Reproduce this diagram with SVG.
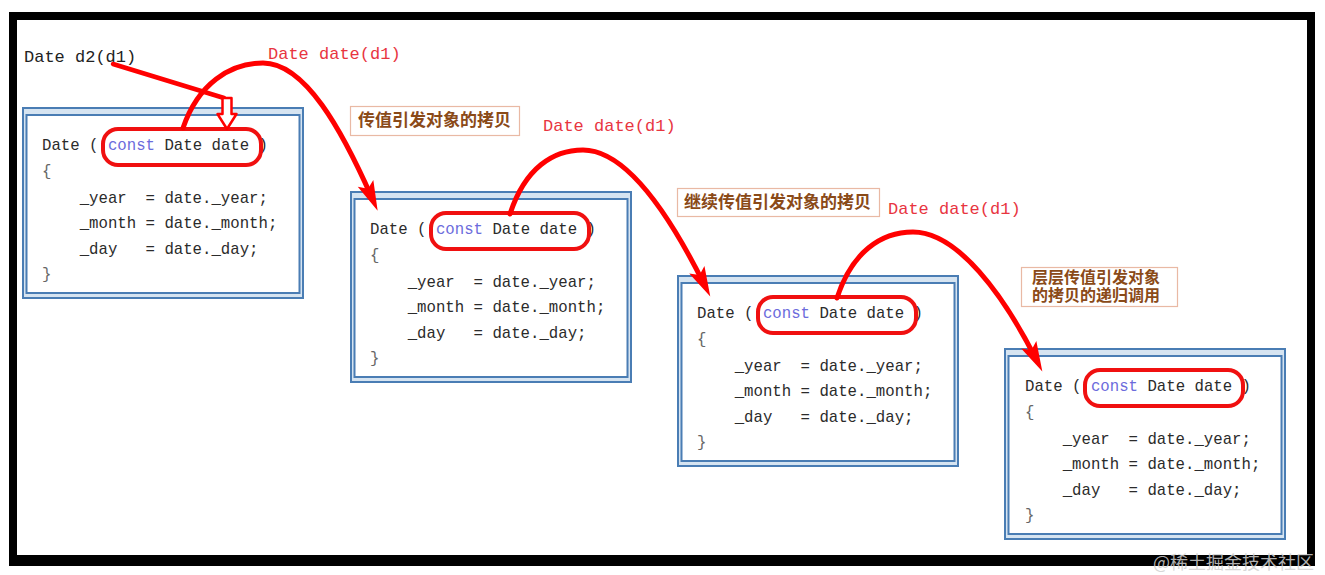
<svg xmlns="http://www.w3.org/2000/svg" width="1325" height="575" viewBox="0 0 1325 575">
<style>
.code{font-family:"Liberation Mono","DejaVu Sans Mono",monospace;font-size:15.7px;fill:#2b2b2b}
.brace{fill:#666}
.kw{fill:#6b6bdc}
.outer{fill:#d6e4f1;stroke:#4a7db4;stroke-width:2}
.inner{fill:#fff;stroke:#4a7db4;stroke-width:2}
.oval{fill:none;stroke:#f01010;stroke-width:4}
.red{font-family:"Liberation Mono","DejaVu Sans Mono",monospace;font-size:17px;fill:#e8353f}
.note{fill:#fff;stroke:#e9b9a4;stroke-width:1.2}
.notet{font-family:"Noto Sans CJK SC","Noto Sans",sans-serif;font-weight:bold;fill:#8a4a18}
.arc{fill:none;stroke:#ff0000;stroke-width:5;stroke-linecap:round}
</style>
<defs>
<marker id="head" markerUnits="userSpaceOnUse" viewBox="-20 -10 40 20" markerWidth="40" markerHeight="20" refX="0" refY="0" orient="auto" overflow="visible">
<path d="M14,0 L-16,-8.5 L-10,0 L-16,8.5 Z" fill="#ff0000"/>
</marker>
</defs>
<rect x="0" y="0" width="1325" height="575" fill="#fff"/>
<path d="M9,12 H1315 V566 H9 Z M17,20 V555 H1307 V20 Z" fill="#000" fill-rule="evenodd"/>

<g id="caller">
<text x="24" y="62" font-family="Liberation Mono, monospace" font-size="17" fill="#222">Date d2(d1)</text>
</g>

<g id="box1" transform="translate(22,107)">
<rect class="outer" x="1" y="1" width="280" height="190"/>
<rect class="inner" x="4.5" y="8" width="273" height="178"/>
<text class="code" xml:space="preserve"><tspan x="20" y="43">Date ( <tspan class="kw">const</tspan> Date date )</tspan><tspan class="brace" x="20" y="69">{</tspan><tspan x="20" y="96">    _year  = date._year;</tspan><tspan x="20" y="121">    _month = date._month;</tspan><tspan x="20" y="147">    _day   = date._day;</tspan><tspan class="brace" x="20" y="172">}</tspan></text>
<rect class="oval" x="81" y="22" width="158" height="36" rx="15"/>
</g>

<g id="box2" transform="translate(350,191)">
<rect class="outer" x="1" y="1" width="280" height="190"/>
<rect class="inner" x="4.5" y="8" width="273" height="178"/>
<text class="code" xml:space="preserve"><tspan x="20" y="43">Date ( <tspan class="kw">const</tspan> Date date )</tspan><tspan class="brace" x="20" y="69">{</tspan><tspan x="20" y="96">    _year  = date._year;</tspan><tspan x="20" y="121">    _month = date._month;</tspan><tspan x="20" y="147">    _day   = date._day;</tspan><tspan class="brace" x="20" y="172">}</tspan></text>
<rect class="oval" x="81" y="22" width="158" height="36" rx="15"/>
</g>

<g id="box3" transform="translate(677,275)">
<rect class="outer" x="1" y="1" width="280" height="190"/>
<rect class="inner" x="4.5" y="8" width="273" height="178"/>
<text class="code" xml:space="preserve"><tspan x="20" y="43">Date ( <tspan class="kw">const</tspan> Date date )</tspan><tspan class="brace" x="20" y="69">{</tspan><tspan x="20" y="96">    _year  = date._year;</tspan><tspan x="20" y="121">    _month = date._month;</tspan><tspan x="20" y="147">    _day   = date._day;</tspan><tspan class="brace" x="20" y="172">}</tspan></text>
<rect class="oval" x="81" y="22" width="158" height="36" rx="15"/>
</g>

<g id="box4" transform="translate(1004,348)">
<rect class="outer" x="1" y="1" width="280" height="190"/>
<rect class="inner" x="4.5" y="8" width="273" height="178"/>
<text class="code" xml:space="preserve"><tspan x="21" y="43">Date ( <tspan class="kw">const</tspan> Date date )</tspan><tspan class="brace" x="21" y="69">{</tspan><tspan x="21" y="96">    _year  = date._year;</tspan><tspan x="21" y="121">    _month = date._month;</tspan><tspan x="21" y="147">    _day   = date._day;</tspan><tspan class="brace" x="21" y="172">}</tspan></text>
<rect class="oval" x="81" y="22" width="158" height="36" rx="15"/>
</g>

<g id="label1">
<text class="red" x="268" y="59">Date date(d1)</text>
</g>
<g id="label2">
<text class="red" x="543" y="131">Date date(d1)</text>
</g>
<g id="label3">
<text class="red" x="888" y="214">Date date(d1)</text>
</g>

<g id="note1">
<rect class="note" x="350.5" y="106.5" width="169" height="29"/>
<text class="notet" x="358" y="126" font-size="17">传值引发对象的拷贝</text>
</g>
<g id="note2">
<rect class="note" x="677.5" y="188.5" width="202" height="28"/>
<text class="notet" x="684" y="208" font-size="17">继续传值引发对象的拷贝</text>
</g>
<g id="note3">
<rect class="note" x="1021.5" y="267.5" width="156" height="39"/>
<text class="notet" x="1032" y="283" font-size="16">层层传值引发对象</text>
<text class="notet" x="1032" y="301" font-size="16">的拷贝的递归调用</text>
</g>

<g id="connectors">
<line x1="113" y1="64" x2="224" y2="98" stroke="#ff0000" stroke-width="4.5" stroke-linecap="round"/>
<polygon points="222.5,98 231.5,98 231.5,114 236.5,114 227,129 217.5,114 222.5,114" fill="#fff" stroke="#ff0000" stroke-width="2.5" stroke-linejoin="round"/>
<path class="arc" d="M183,128 C198,84 230,63 263,63 C305,63 342,130 372,198" marker-end="url(#head)"/>
<path class="arc" d="M510,214 C525,168 553,150 583,150 C628,150 672,220 704,284" marker-end="url(#head)"/>
<path class="arc" d="M837,298 C852,252 881,232 913,232 C958,232 1004,296 1036,359" marker-end="url(#head)"/>
</g>

<g id="watermark">
<text x="1153" y="569" font-family="Noto Sans CJK SC, sans-serif" font-size="18" fill="#d0d0d0" fill-opacity="0.85">@稀土掘金技术社区</text>
</g>
</svg>
